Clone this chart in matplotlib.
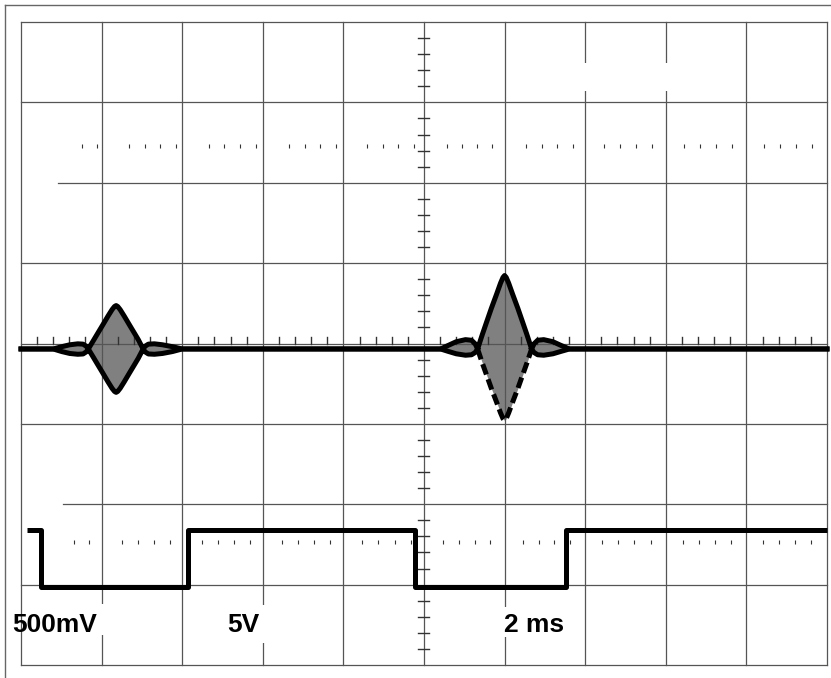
import matplotlib
matplotlib.use('Agg')
import matplotlib.pyplot as plt
import numpy as np
from matplotlib.patches import Rectangle
from matplotlib.lines import Line2D

plt.rcParams['font.family'] = ['Liberation Sans', 'DejaVu Sans']

# ---- scope settings ----
MS_PER_DIV = 2.0      # time base
CH1_MV_PER_DIV = 500  # channel 1
CH2_V_PER_DIV = 5     # channel 2

# ---- channel 1: two tone bursts (envelope) ----
ch1_baseline_mv = -34
burst1_center_ms = 2.36
burst1_offset_ms = [-1.56, -1.35, -1.15, -0.95, -0.82, -0.74, -0.69, -0.55, -0.45, -0.33, -0.20, -0.10, -0.04, 0.0,
                    0.04, 0.10, 0.20, 0.33, 0.45, 0.55, 0.67, 0.72, 0.80, 0.95, 1.15, 1.40, 1.64]
burst1_up_mv = [0, 14, 26, 32, 30, 17, 0, 58, 100, 150, 205, 245, 264, 270,
                264, 245, 205, 150, 100, 58, 0, 17, 30, 32, 26, 14, 0]
burst1_dn_mv = [0, 16, 28, 33, 31, 18, 0, 58, 100, 150, 205, 245, 264, 270,
                264, 245, 205, 150, 100, 58, 0, 18, 31, 33, 28, 16, 0]

burst2_center_ms = 12.0
burst2_offset_ms = [-1.59, -1.40, -1.20, -0.97, -0.82, -0.73, -0.67, -0.55, -0.45, -0.33, -0.20, -0.10, -0.04, 0.0,
                    0.04, 0.10, 0.20, 0.33, 0.45, 0.55, 0.67, 0.73, 0.82, 0.97, 1.20, 1.40, 1.61]
burst2_up_mv = [0, 22, 45, 58, 54, 32, 0, 92, 165, 252, 340, 410, 445, 457,
                445, 410, 340, 252, 165, 92, 0, 32, 54, 58, 45, 22, 0]
burst2_dn_mv = [0, 15, 30, 39, 36, 22, 0, 90, 160, 245, 330, 398, 433, 445,
                433, 398, 330, 245, 160, 90, 0, 22, 36, 39, 30, 15, 0]

# ---- channel 2: gate signal ----
ch2_edges_ms = [0.15, 0.50, 4.14, 9.78, 13.52, 20.0]
ch2_levels_v = [3.55, 0.0, 3.55, 0.0, 3.55, 3.55]
ch2_ground_div = -3.03

# ---- dotted reference rows ----
upper_dots_ms = [1.51, 1.89, 2.68, 3.08, 3.45, 3.85, 4.67, 5.04, 5.43, 5.83, 6.65, 7.05, 7.42, 7.82,
                 8.59, 8.98, 9.36, 9.75, 10.57, 10.94, 11.32, 11.69, 12.53, 12.93, 13.30, 13.70,
                 14.47, 14.86, 15.26, 15.66, 16.45, 16.85, 17.25, 17.64, 18.44, 18.83, 19.23, 19.63]
lower_dots_ms = [1.32, 1.69, 2.51, 2.90, 3.30, 3.70, 4.49, 4.89, 5.29, 5.68, 6.48, 6.87, 7.27, 7.67,
                 8.46, 8.86, 9.28, 9.68, 10.47, 10.87, 11.27, 11.64, 12.46, 12.85, 13.23, 13.62,
                 14.42, 14.81, 15.21, 15.63, 16.43, 16.82, 17.22, 17.62, 18.41, 18.81, 19.21, 19.60]

labels = ['500mV', '5V', '2 ms']

W, H = 831, 678
GX0, GX1, GY0, GY1 = 21, 827, 22, 665
GRID = '#555555'
FILL = '#808080'
LW = 3.6


def to_data(x, y):
    # screen pixel -> (ms, div)
    return (x - GX0) / (GX1 - GX0) * 20.0, 4.0 - (y - GY0) / (GY1 - GY0) * 8.0


fig = plt.figure(figsize=(W / 100, H / 100), dpi=100)
ax = fig.add_axes([GX0 / W, 1 - GY1 / H, (GX1 - GX0) / W, (GY1 - GY0) / H])
ax.set_xlim(0, 20)
ax.set_ylim(-4, 4)
ax.axis('off')

# outer frame (left and top only visible)
fig.add_artist(Line2D([4.5 / W, 4.5 / W], [0, 1 - 5 / H], color='#666666', lw=1.0, transform=fig.transFigure))
fig.add_artist(Line2D([4.5 / W, 1], [1 - 5 / H, 1 - 5 / H], color='#666666', lw=1.0, transform=fig.transFigure))

# graticule
for t in np.arange(0, 20.1, MS_PER_DIV):
    ax.plot([t, t], [-4, 4], color=GRID, lw=0.9, zorder=3, clip_on=False)
for d in range(-4, 5):
    x0 = 0
    if d == 2:
        x0 = to_data(58, 0)[0]
    elif d == -2:
        x0 = to_data(63, 0)[0]
    ax.plot([x0, 20], [d, d], color=GRID, lw=0.9, zorder=3, clip_on=False)

# centre axis minor ticks
tx0, _ = to_data(418, 0)
tx1, _ = to_data(429, 0)
for k in range(-20, 21):
    if k % 5:
        ax.plot([tx0, tx1], [k * 0.2, k * 0.2], color='#333333', lw=1.0, zorder=3)
for k in range(1, 50):
    if k % 5:
        ax.plot([k * 0.4, k * 0.4], [0, 0.075], color='#333333', lw=1.0, zorder=3)

# dotted rows
ax.plot(upper_dots_ms, [to_data(0, 146)[1]] * len(upper_dots_ms), ls='none', marker='|', ms=3,
        mew=0.8, color='#333333', zorder=3)
ax.plot(lower_dots_ms, [to_data(0, 542)[1]] * len(lower_dots_ms), ls='none', marker='|', ms=3,
        mew=0.8, color='#333333', zorder=3)

# white masks over graticule
for (x0, y0, x1, y1) in [(578, 63, 673, 91), (23, 604, 107, 635), (222, 605, 267, 643), (503, 607, 566, 637)]:
    a = to_data(x0, y1)
    b = to_data(x1, y0)
    ax.add_patch(Rectangle(a, b[0] - a[0], b[1] - a[1], facecolor='white', edgecolor='none',
                           zorder=3.5, clip_on=False))

# channel 1
t1 = burst1_center_ms + np.array(burst1_offset_ms)
t2 = burst2_center_ms + np.array(burst2_offset_ms)
ch1_t = np.concatenate([[0], t1, t2, [20]])
up = (ch1_baseline_mv + np.concatenate([[0], burst1_up_mv, burst2_up_mv, [0]])) / CH1_MV_PER_DIV
dn = (ch1_baseline_mv - np.concatenate([[0], burst1_dn_mv, burst2_dn_mv, [0]])) / CH1_MV_PER_DIV

ax.fill_between(ch1_t, dn, up, color=FILL, lw=0, zorder=2)
line_kw = dict(color='black', lw=LW, solid_capstyle='projecting', solid_joinstyle='round', zorder=4,
               clip_on=False)
ax.plot(ch1_t, up, **line_kw)

# lower edge: main lobe of second burst is dashed
start = 1 + len(burst1_offset_ms)
main = [i for i, o in enumerate(burst2_offset_ms) if abs(o) <= 0.67]
i0, i1 = start + main[0], start + main[-1]
ax.plot(ch1_t[:i0 + 1], dn[:i0 + 1], **line_kw)
ax.plot(ch1_t[i1:], dn[i1:], **line_kw)
ax.plot(ch1_t[i0:i1 + 1], dn[i0:i1 + 1], color='black', lw=LW, dashes=(2.2, 1.0),
        dash_capstyle='butt', zorder=4)

# channel 2
ch2_y = ch2_ground_div + np.array(ch2_levels_v) / CH2_V_PER_DIV
ax.plot(ch2_edges_ms, ch2_y, drawstyle='steps-post', color='black', lw=LW,
        solid_joinstyle='round', solid_capstyle='butt', zorder=4, clip_on=False)

# scale labels
for lab, xp in zip(labels, [12, 227, 504]):
    x, y = to_data(xp, 632)
    ax.text(x, y, lab, fontsize=19, fontweight='bold', ha='left', va='baseline', zorder=5, clip_on=False)

fig.savefig('out.png', dpi=100)
